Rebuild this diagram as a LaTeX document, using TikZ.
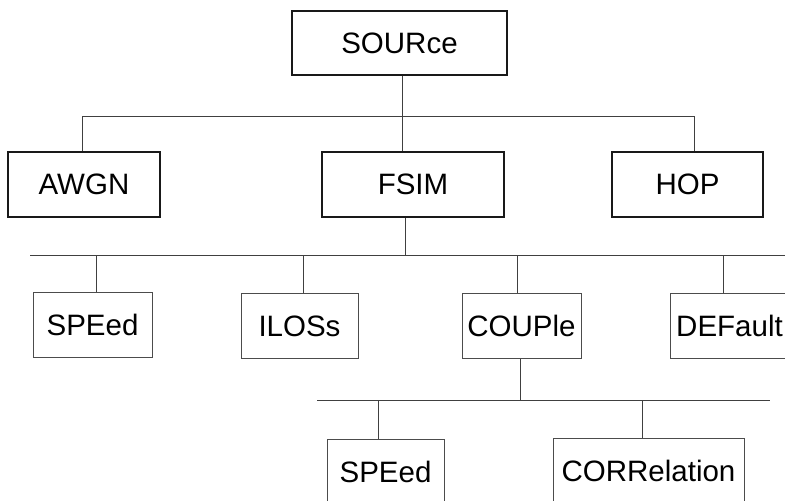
\documentclass[tikz,border=0pt]{standalone}
\usepackage{fontspec}
\setmainfont{Liberation Sans}
\usepackage{tikz}

\begin{document}
\begin{tikzpicture}[x=1pt,y=-1pt,
    font=\fontsize{29.5}{34}\selectfont,
    box/.style={draw=black!70,line width=1pt,inner sep=0pt,minimum height=65pt},
    topbox/.style={box,draw=black!90,line width=1.8pt},
    wire/.style={draw=black!75,line width=1pt}]
  \useasboundingbox (0,0) rectangle (785,501);
  \node[topbox,line width=1.3pt,minimum width=215pt,minimum height=64pt] (source) at (399.5,43) {SOURce};
  \node[topbox,minimum width=152pt] (awgn) at (84,184.5) {AWGN};
  \node[topbox,minimum width=182pt] (fsim) at (413,184.5) {FSIM};
  \node[topbox,minimum width=151pt] (hop) at (687.5,184.5) {HOP};
  \node[box,minimum width=119pt] (speedA) at (92.5,325) {SPEed};
  \node[box,minimum width=117pt] (ilos) at (299.5,326) {ILOSs};
  \node[box,minimum width=119pt] (couple) at (521.5,326) {COUPle};
  \node[box,minimum width=119pt] (default) at (729.5,326) {DEFault};
  \node[box,minimum width=117pt,minimum height=66pt] (speedB) at (385.5,472) {SPEed};
  \node[box,minimum width=191pt,minimum height=66pt] (corr) at (648.5,471) {CORRelation};
  \coordinate (busA-l) at (82,116);
  \coordinate (busA-r) at (694,116);
  \coordinate (busB-l) at (30,255);
  \coordinate (busB-r) at (785,255);
  \coordinate (busC-l) at (317,400);
  \coordinate (busC-r) at (770,400);
  \draw[wire] ([xshift=2.5pt]source.south) -- ([xshift=2.5pt]source.south |- fsim.north);
  \draw[wire] (busA-l |- awgn.north) -- (busA-l) -- (busA-r) -- (busA-r |- hop.north);
  \draw[wire] ([xshift=-8pt]fsim.south) -- ([xshift=-8pt]fsim.south |- busB-l);
  \draw[wire] (busB-l) -- (busB-r);
  \foreach \n/\dx in {speedA/3.5,ilos/3.5,couple/-4.5,default/-6.5}
    \draw[wire] ([xshift=\dx pt]\n.north) -- ([xshift=\dx pt]\n.north |- busB-l);
  \draw[wire] ([xshift=-1.5pt]couple.south) -- ([xshift=-1.5pt]couple.south |- busC-l);
  \draw[wire] (busC-l) -- (busC-r);
  \foreach \n/\dx in {speedB/-7.5,corr/-6.5}
    \draw[wire] ([xshift=\dx pt]\n.north) -- ([xshift=\dx pt]\n.north |- busC-l);
\end{tikzpicture}
\end{document}
